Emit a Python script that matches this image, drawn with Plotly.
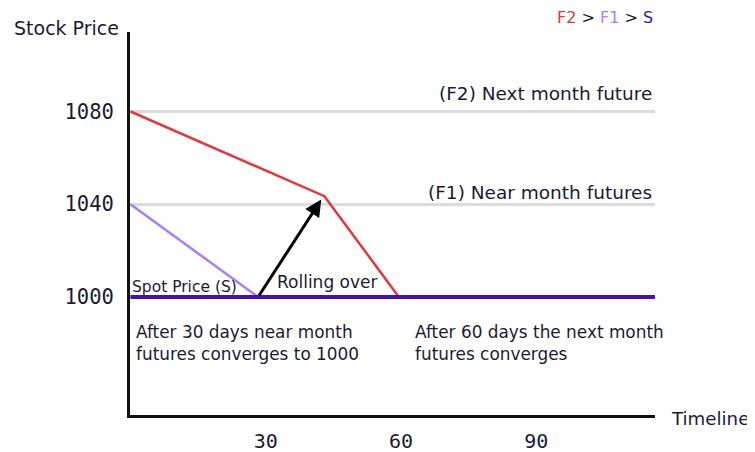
import plotly.graph_objects as go

# Data
f2_days = [0, 43, 59.5]
f2_price = [1080, 1043.5, 1000]
f1_days = [0, 28.3]
f1_price = [1040, 1000]
spot_days = [0, 116.3]
spot_price = [1000, 1000]
x_ticks = [30, 60, 90]
y_ticks = [1000, 1040, 1080]
arrow_from = (28.3, 1000)
arrow_to = (42.3, 1042)

RED = "#e0383e"
LPURPLE = "#ab7cfa"
DPURPLE = "#4a0fa3"
TXT = "#1c1a33"
FONT = "DejaVu Sans"
MONO = "DejaVu Sans Mono"

fig = go.Figure()
fig.add_trace(go.Scatter(x=f2_days, y=f2_price, mode="lines",
                         line=dict(color=RED, width=2.5), hoverinfo="skip"))
fig.add_trace(go.Scatter(x=f1_days, y=f1_price, mode="lines",
                         line=dict(color=LPURPLE, width=2.5), hoverinfo="skip"))
fig.add_trace(go.Scatter(x=spot_days, y=spot_price, mode="lines",
                         line=dict(color=DPURPLE, width=4), hoverinfo="skip"))

ann = []
ann.append(dict(x=arrow_to[0], y=arrow_to[1], ax=arrow_from[0], ay=arrow_from[1],
                xref="x", yref="y", axref="x", ayref="y", text="",
                showarrow=True, arrowhead=2, arrowsize=1.1, arrowwidth=3, arrowcolor="#000"))

OFF = 8  # page body margin
W, H = 755 - OFF, 452 - OFF
L, R, T, B = 129.5 - OFF, 100, 32 - OFF, 37
pw, ph = W - L - R, H - T - B
def px(x): return (x - OFF - L) / pw
def py(y): return 1 - (y - OFF - T) / ph

def txt(x, y, t, size=16, xanchor="left", yanchor="middle", color=TXT, font=FONT, align="left"):
    ann.append(dict(x=px(x), y=py(y), xref="paper", yref="paper", text=t, showarrow=False,
                    xanchor=xanchor, yanchor=yanchor, align=align,
                    font=dict(family=font, size=size, color=color)))

txt(11, 28, "Stock Price", size=19)
txt(669, 418, "Timeline", size=18.2)
txt(655, 17.5,
    f"<span style='color:{RED}'>F2</span> &gt; <span style='color:{LPURPLE}'>F1</span> &gt; <span style='color:{DPURPLE}'>S</span>",
    size=16, xanchor="right")
txt(654, 93, "(F2) Next month future", size=18.5, xanchor="right")
txt(654, 192, "(F1) Near month futures", size=18.5, xanchor="right")
txt(130, 287, "Spot Price (S)", size=15.5)
txt(275, 282, "Rolling over", size=17)
txt(134, 343, "After 30 days near month<br>futures converges to 1000", size=16.9)
txt(413, 343, "After 60 days the next month<br>futures converges", size=16.9)

fig.update_layout(
    width=W, height=H,
    margin=dict(l=L, r=R, t=T, b=B, autoexpand=False),
    paper_bgcolor="white", plot_bgcolor="white",
    showlegend=False,
    annotations=ann,
    xaxis=dict(range=[-0.1, 116.3], tickvals=x_ticks, ticktext=[str(v) for v in x_ticks],
               showgrid=False, zeroline=False, showline=True, linecolor="#111", linewidth=3,
               ticks="", ticklabelstandoff=6, automargin=False,
               tickfont=dict(family=MONO, size=20, color=TXT)),
    yaxis=dict(range=[949.1, 1114.3], tickvals=y_ticks, ticktext=[str(v) for v in y_ticks],
               showgrid=True, gridcolor="#dcdcdc", gridwidth=2.5, zeroline=False,
               showline=True, linecolor="#111", linewidth=3,
               ticks="", ticklabelstandoff=9, automargin=False,
               tickfont=dict(family=MONO, size=20.5, color=TXT)),
)

fig.write_html("out.html")
